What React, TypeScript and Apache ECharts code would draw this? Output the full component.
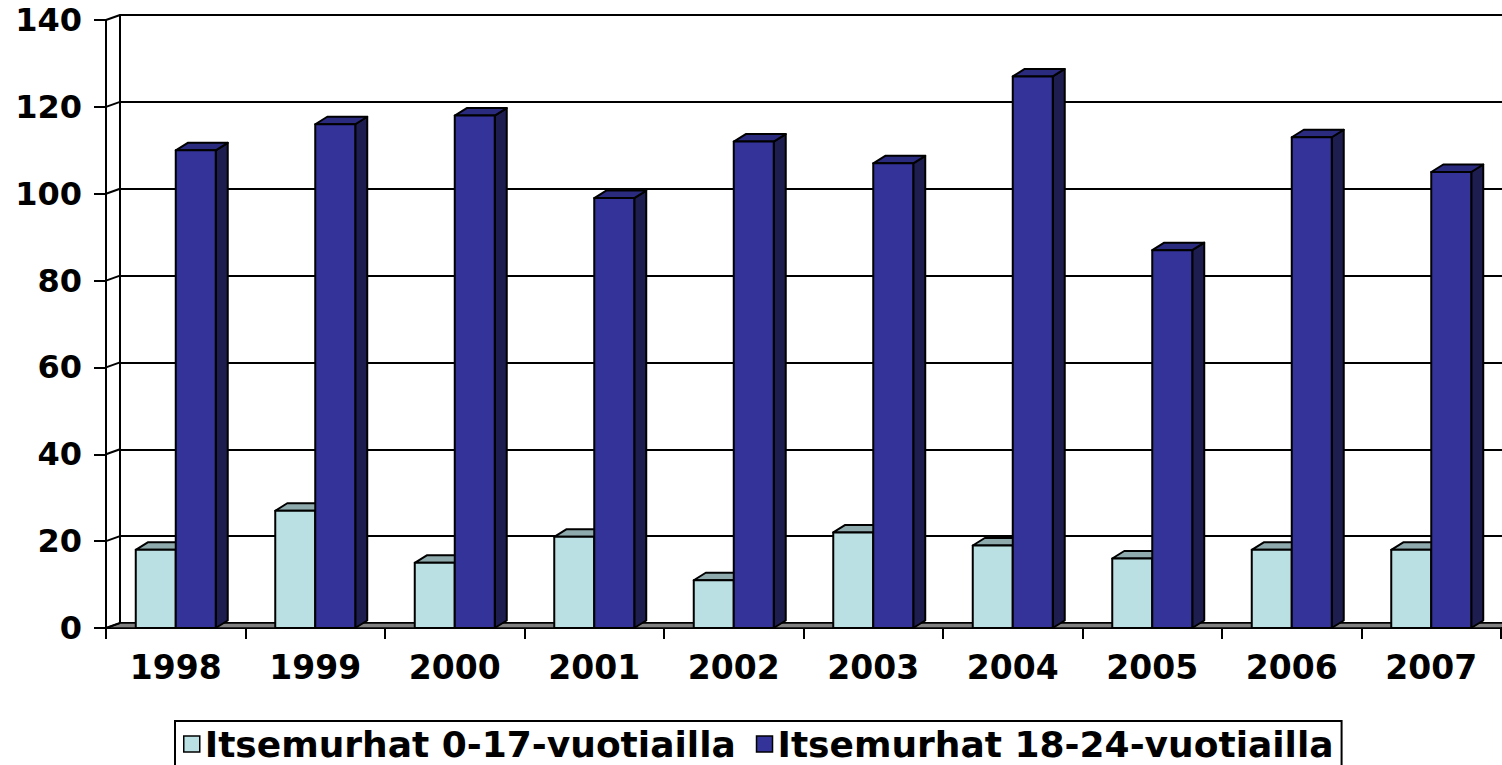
import React, { useEffect, useRef } from "react";
import * as echarts from "echarts";

const years = ["1998", "1999", "2000", "2001", "2002", "2003", "2004", "2005", "2006", "2007"];
const young = [18, 27, 15, 21, 11, 22, 19, 16, 18, 18];
const older = [110, 116, 118, 99, 112, 107, 127, 87, 113, 105];
const yTicks = [0, 20, 40, 60, 80, 100, 120, 140];
const seriesNames = ["Itsemurhat 0-17-vuotiailla", "Itsemurhat 18-24-vuotiailla"];

const DX = 12;
const DY = -7.5;
const WX = 14;
const WY = -5;

const palettes = [
  { front: "#BBE0E3", top: "#8FAAAC", side: "#6F8C8E" },
  { front: "#333399", top: "#2A2A7E", side: "#1D1D50" },
];

function barRenderer(s: number) {
  return (params: any, api: any) => {
    const i = api.value(0);
    const v = api.value(1);
    const base = api.coord([i, 0]);
    const top = api.coord([i, v]);
    const band = api.size([1, 0])[0];
    const w = band * 0.2867;
    const x0 = base[0] + (s - 1) * w;
    const x1 = x0 + w;
    const y0 = base[1];
    const yt = top[1];
    const p = palettes[s];
    const line = { stroke: "#000", lineWidth: 2, lineJoin: "round" };
    return {
      type: "group",
      children: [
        {
          type: "polygon",
          shape: { points: [[x1, yt], [x1 + DX, yt + DY], [x1 + DX, y0 + DY], [x1, y0]] },
          style: { fill: p.side, ...line },
        },
        {
          type: "polygon",
          shape: { points: [[x0, yt], [x0 + DX, yt + DY], [x1 + DX, yt + DY], [x1, yt]] },
          style: { fill: p.top, ...line },
        },
        {
          type: "rect",
          shape: { x: x0, y: yt, width: w, height: y0 - yt },
          style: { fill: p.front, ...line },
        },
      ],
    };
  };
}

export default function App() {
  const ref = useRef<HTMLDivElement>(null);
  useEffect(() => {
    if (!ref.current) return;
    const chart = echarts.init(ref.current, undefined, { renderer: "svg" });
    const font = "DejaVu Sans";
    chart.setOption({
      animation: false,
      backgroundColor: "#fff",
      legend: {
        left: 175,
        top: 721,
        padding: [5, 8, 12, 8],
        borderColor: "#000",
        borderWidth: 2,
        itemWidth: 16,
        itemHeight: 16,
        itemGap: 20,
        selectedMode: false,
        textStyle: {
          fontFamily: font,
          fontWeight: "bold",
          fontSize: 36,
          lineHeight: 34,
          color: "#000",
        },
        data: seriesNames.map((n, k) => ({
          name: n,
          icon: "rect",
          itemStyle: { color: palettes[k].front, borderColor: "#000", borderWidth: 1.5 },
        })),
      },
      grid: [
        { left: 106, right: 1, top: 20, bottom: 137 },
        { left: 120, right: 0, top: 15, bottom: 142 },
      ],
      xAxis: [
        {
          type: "category",
          gridIndex: 0,
          data: years,
          boundaryGap: true,
          axisLine: { show: true, lineStyle: { color: "#000", width: 2 } },
          axisTick: { show: true, length: 11, interval: 0, lineStyle: { color: "#000", width: 2 } },
          axisLabel: {
            interval: 0,
            margin: 23,
            fontFamily: font,
            fontWeight: "bold",
            fontSize: 33,
            color: "#000",
          },
          splitLine: { show: false },
        },
        {
          type: "category",
          gridIndex: 1,
          data: years,
          show: false,
        },
      ],
      yAxis: [
        {
          type: "value",
          gridIndex: 0,
          min: 0,
          max: 140,
          interval: 20,
          axisLine: { show: true, lineStyle: { color: "#000", width: 2 } },
          axisTick: { show: true, length: 12, lineStyle: { color: "#000", width: 2 } },
          axisLabel: {
            margin: 24,
            fontFamily: font,
            fontWeight: "bold",
            fontSize: 32,
            color: "#000",
          },
          splitLine: { show: false },
        },
        {
          type: "value",
          gridIndex: 1,
          min: 0,
          max: 140,
          interval: 20,
          axisLine: { show: true, lineStyle: { color: "#000", width: 2 } },
          axisTick: { show: false },
          axisLabel: { show: false },
          splitLine: { show: true, lineStyle: { color: "#000", width: 2 } },
        },
      ],
      series: [
        {
          type: "custom",
          name: "floor",
          xAxisIndex: 0,
          yAxisIndex: 0,
          z: 1,
          silent: true,
          data: [[0, 0]],
          encode: { x: 0, y: 1 },
          renderItem: (params: any, api: any) => {
            const cs = params.coordSys;
            const y0 = api.coord([0, 0])[1];
            return {
              type: "polygon",
              shape: {
                points: [
                  [cs.x, y0],
                  [cs.x + cs.width, y0],
                  [cs.x + cs.width + WX, y0 + WY],
                  [cs.x + WX, y0 + WY],
                ],
              },
              style: { fill: "#808080", stroke: "#000", lineWidth: 1.5 },
            };
          },
        },
        {
          type: "custom",
          name: "connectors",
          xAxisIndex: 0,
          yAxisIndex: 0,
          z: 1,
          silent: true,
          data: yTicks.map((t) => [0, t]),
          encode: { x: 0, y: 1 },
          renderItem: (params: any, api: any) => {
            const cs = params.coordSys;
            const y = api.coord([0, api.value(1)])[1];
            return {
              type: "line",
              shape: { x1: cs.x, y1: y, x2: cs.x + WX, y2: y + WY },
              style: { stroke: "#000", lineWidth: 2 },
            };
          },
        },
        {
          type: "custom",
          name: seriesNames[0],
          xAxisIndex: 0,
          yAxisIndex: 0,
          z: 3,
          itemStyle: { color: palettes[0].front },
          data: young.map((v, i) => [i, v]),
          encode: { x: 0, y: 1 },
          renderItem: barRenderer(0),
        },
        {
          type: "custom",
          name: seriesNames[1],
          xAxisIndex: 0,
          yAxisIndex: 0,
          z: 4,
          itemStyle: { color: palettes[1].front },
          data: older.map((v, i) => [i, v]),
          encode: { x: 0, y: 1 },
          renderItem: barRenderer(1),
        },
      ],
    });
    return () => chart.dispose();
  }, []);
  return (
    <div
      ref={ref}
      style={{ position: "fixed", left: 0, top: 0, width: 1502, height: 765, background: "#fff" }}
    />
  );
}
